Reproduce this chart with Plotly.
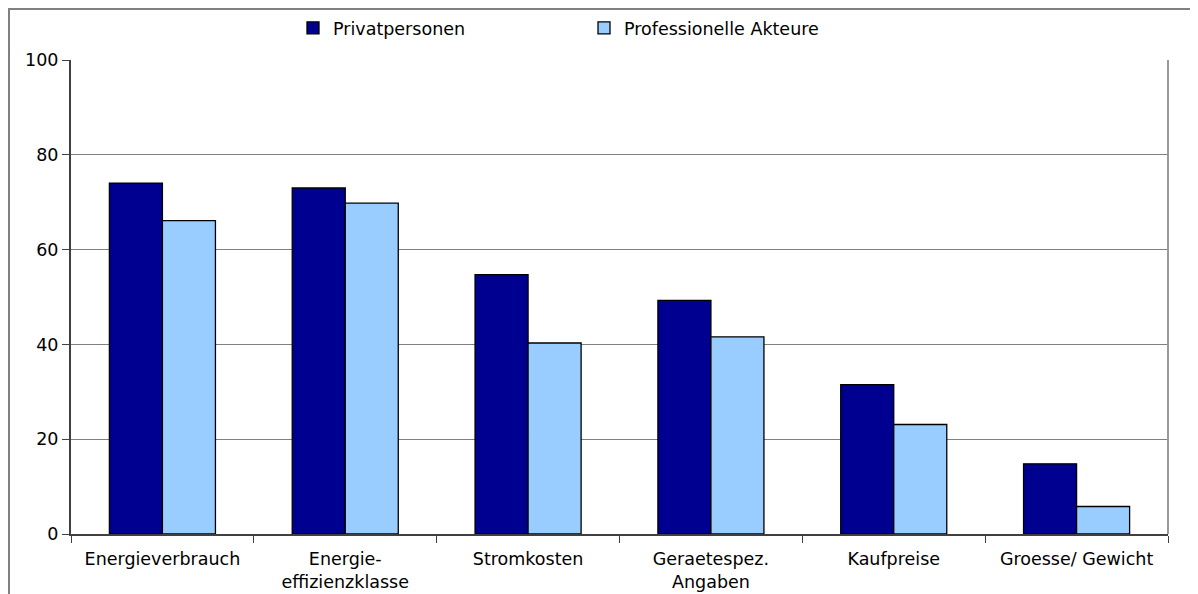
import plotly.graph_objects as go

categories = ["Energieverbrauch", "Energie-<br>effizienzklasse", "Stromkosten",
              "Geraetespez.<br>Angaben", "Kaufpreise", "Groesse/ Gewicht"]
privat = [74.0, 73.0, 54.7, 49.3, 31.5, 14.8]
profi = [66.1, 69.8, 40.3, 41.6, 23.1, 5.8]
series_names = ["Privatpersonen", "Professionelle Akteure"]
y_ticks = [0, 20, 40, 60, 80, 100]

FONT = "Verdana, DejaVu Sans, sans-serif"
FS = 17.5

# page has an 8px body margin; figure coordinates are page - 8
W, H = 1190, 586
L, R, T, B = 63, 30, 52, 60
PW = W - L - R
PH = H - T - B

fig = go.Figure()
fig.add_trace(go.Bar(x=categories, y=privat, name=series_names[0],
                     marker=dict(color="#000090", line=dict(color="#000000", width=1.3))))
fig.add_trace(go.Bar(x=categories, y=profi, name=series_names[1],
                     marker=dict(color="#99CCFF", line=dict(color="#000000", width=1.3))))

fig.update_layout(
    width=W, height=H,
    margin=dict(l=L, r=R, t=T, b=B, autoexpand=False),
    paper_bgcolor="white", plot_bgcolor="white",
    font=dict(family=FONT, size=FS, color="#000000"),
    barmode="group", bargap=0.42, bargroupgap=0,
    legend=dict(orientation="h", x=(285 - L) / PW, y=1 + (T - 20) / PH,
                xanchor="left", yanchor="middle",
                font=dict(size=FS), entrywidth=246, itemwidth=30,
                bgcolor="rgba(0,0,0,0)", traceorder="normal"),
    xaxis=dict(tickson="boundaries", ticks="outside", ticklen=7, tickcolor="#404040",
               showline=True, linecolor="#404040", linewidth=2, showgrid=False,
               tickfont=dict(size=FS), automargin=False, ticklabelstandoff=8),
    yaxis=dict(range=[0, 100], tickvals=y_ticks, ticks="outside", ticklen=7,
               tickcolor="#404040", showline=True, linecolor="#404040", linewidth=2,
               showgrid=True, gridcolor="#808080", gridwidth=1.3, zeroline=False,
               tickfont=dict(size=FS), automargin=False),
    shapes=[
        dict(type="line", xref="paper", yref="paper", x0=1, x1=1, y0=0, y1=1,
             line=dict(color="#999999", width=2)),
        dict(type="rect", xref="paper", yref="paper",
             x0=(1 - L) / PW, x1=1.2, y0=-0.3, y1=1 + (T - 1) / PH,
             line=dict(color="#808080", width=2), layer="below"),
    ],
)

fig.write_html("out.html")
